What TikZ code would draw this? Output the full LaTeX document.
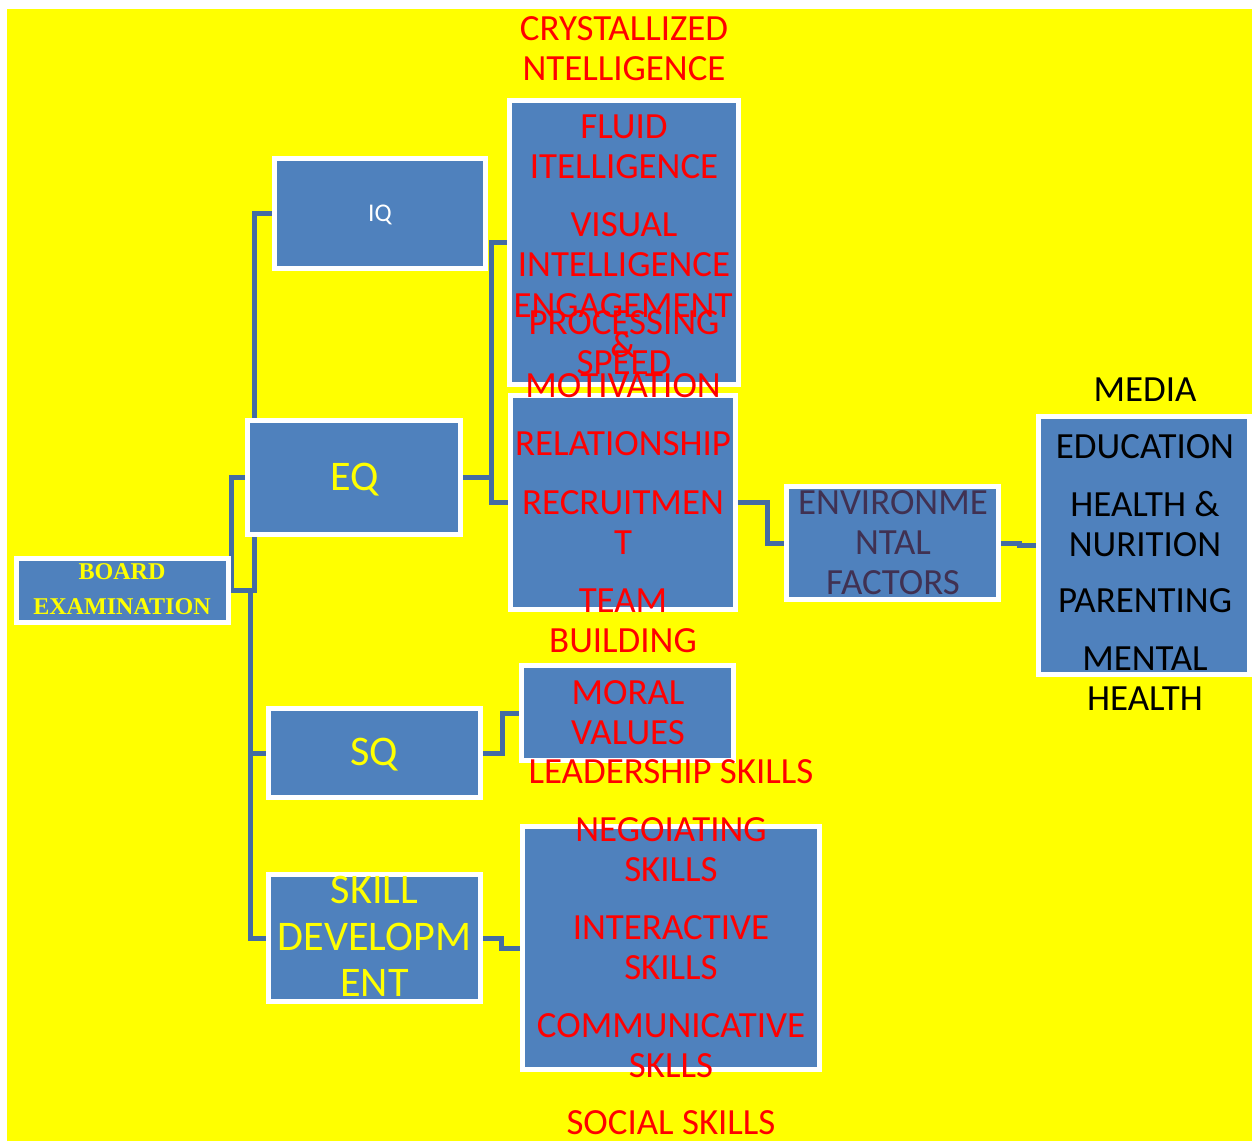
\documentclass[tikz,border=0pt]{standalone}
\usepackage{fontspec}
\setmainfont{Carlito}
\newfontfamily\boardfont{Liberation Serif}
\definecolor{boxblue}{RGB}{79,129,189}
\definecolor{linkblue}{RGB}{68,108,162}
\definecolor{envtext}{RGB}{64,49,82}
\definecolor{sunyellow}{RGB}{255,255,0}
\definecolor{hotred}{RGB}{255,0,0}
\pgfdeclarelayer{links}
\pgfsetlayers{links,main}

\begin{document}
\begin{tikzpicture}[x=0.2mm, y=-0.2mm,
    box/.style={draw=white, line width=1mm, fill=boxblue, inner sep=0pt},
    link/.style={draw=linkblue, line width=1mm},
    lbl/.style={align=center, inner sep=0pt, font=\fontsize{21}{22.8}\selectfont},
    big/.style={align=center, inner sep=0pt, text=sunyellow, font=\fontsize{24}{26.5}\selectfont}]
    \useasboundingbox (0,0) rectangle (1252,1141);

    % boxes
    \node[box, minimum width=42.4mm, minimum height=12.8mm] (board) at (122.5,590.5) {};
    \node[box, minimum width=42.2mm, minimum height=22mm] (iq) at (380,213.5) {};
    \node[box, minimum width=42.6mm, minimum height=22.8mm] (eq) at (354,477.5) {};
    \node[box, minimum width=42.4mm, minimum height=17.8mm] (sq) at (374.5,753) {};
    \node[box, minimum width=42.4mm, minimum height=25.4mm] (skill) at (374.5,938) {};
    \node[box, minimum width=45.8mm, minimum height=56.8mm] (fluid) at (624,242.5) {};
    \node[box, minimum width=45mm, minimum height=42.8mm] (motiv) at (623,502.5) {};
    \node[box, minimum width=42.4mm, minimum height=19mm] (moral) at (627.5,713) {};
    \node[box, minimum width=59.4mm, minimum height=48.6mm] (skills) at (671,948) {};
    \node[box, minimum width=42.4mm, minimum height=22.6mm] (env) at (892.5,543) {};
    \node[box, minimum width=42.2mm, minimum height=51.6mm] (media) at (1144,545.5) {};

    % connectors, behind the boxes
    \begin{pgfonlayer}{links}
        \fill[sunyellow] (7,9) rectangle (1252,1141);
        \draw[link] (board.east) -- ++(23.5,0) |- (iq.west);
        \draw[link] (board.east) |- (eq.west);
        \draw[link] (board.east) -- ++(19,0) |- (sq.west);
        \draw[link] (board.east) -- ++(19,0) |- (skill.west);
        \draw[link] (eq.east) -- ++(28,0) |- (fluid.west);
        \draw[link] (eq.east) -- ++(28,0) |- (motiv.west);
        \draw[link] (motiv.east) -- ++(29.5,0) |- (env.west);
        \draw[link] (env.east) -- ++(18,0) |- (media.west);
        \draw[link] (sq.east) -- ++(19.5,0) |- (moral.west);
        \draw[link] (skill.east) -- ++(18.5,0) |- (skills.west);
    \end{pgfonlayer}

    % left column
    \node[align=center, inner sep=0pt, text=sunyellow, font=\boardfont\bfseries\fontsize{13.7}{19.9}\selectfont] (boardtext) at (122,589.5) {BOARD\\EXAMINATION};
    \node[inner sep=0pt, text=white, font=\fontsize{14.5}{16}\selectfont] (iqtext) at (380,214.5) {IQ};
    \node[big] (eqtext) at (355,480) {EQ};
    \node[big] (sqtext) at (374,755) {SQ};
    \node[big] (skilltext) at (374.5,936.5) {SKILL\\DEVELOPM\\ENT};

    % intelligence
    \node[lbl, hotred] (crys) at (624,49) {CRYSTALLIZED\\NTELLIGENCE};
    \node[lbl, hotred] (fluidtext) at (624,147) {FLUID\\ITELLIGENCE};
    \node[lbl, hotred] (visual) at (624,244.5) {VISUAL\\INTELLIGENCE};
    \node[lbl, hotred] (speed) at (624,342.5) {PROCESSING\\SPEED};

    % emotional
    \node[lbl, hotred] (engage) at (623,346) {ENGAGEMENT\\\&\\MOTIVATION};
    \node[lbl, hotred] (relation) at (623,444) {RELATIONSHIP};
    \node[lbl, hotred] (recruit) at (623,522.5) {RECRUITMEN\\T};
    \node[lbl, hotred] (team) at (623,620.5) {TEAM\\BUILDING};

    % social and skills
    \node[lbl, hotred] (values) at (628,712.5) {MORAL\\VALUES};
    \node[lbl, hotred] (leader) at (671,772) {LEADERSHIP SKILLS};
    \node[lbl, hotred] (negotiate) at (671,849.5) {NEGOIATING\\SKILLS};
    \node[lbl, hotred] (interact) at (671,947.5) {INTERACTIVE\\SKILLS};
    \node[lbl, hotred] (communicate) at (671,1045.5) {COMMUNICATIVE\\SKLLS};
    \node[lbl, hotred] (social) at (671,1123) {SOCIAL SKILLS};

    % environment
    \node[lbl, envtext] (envtext) at (893,542.5) {ENVIRONME\\NTAL\\FACTORS};
    \node[lbl] (mediatext) at (1145,390) {MEDIA};
    \node[lbl] (education) at (1145,447) {EDUCATION};
    \node[lbl] (health) at (1145,524) {HEALTH \&\\NURITION};
    \node[lbl] (parenting) at (1145,601) {PARENTING};
    \node[lbl] (mental) at (1145,678.5) {MENTAL\\HEALTH};
\end{tikzpicture}
\end{document}
